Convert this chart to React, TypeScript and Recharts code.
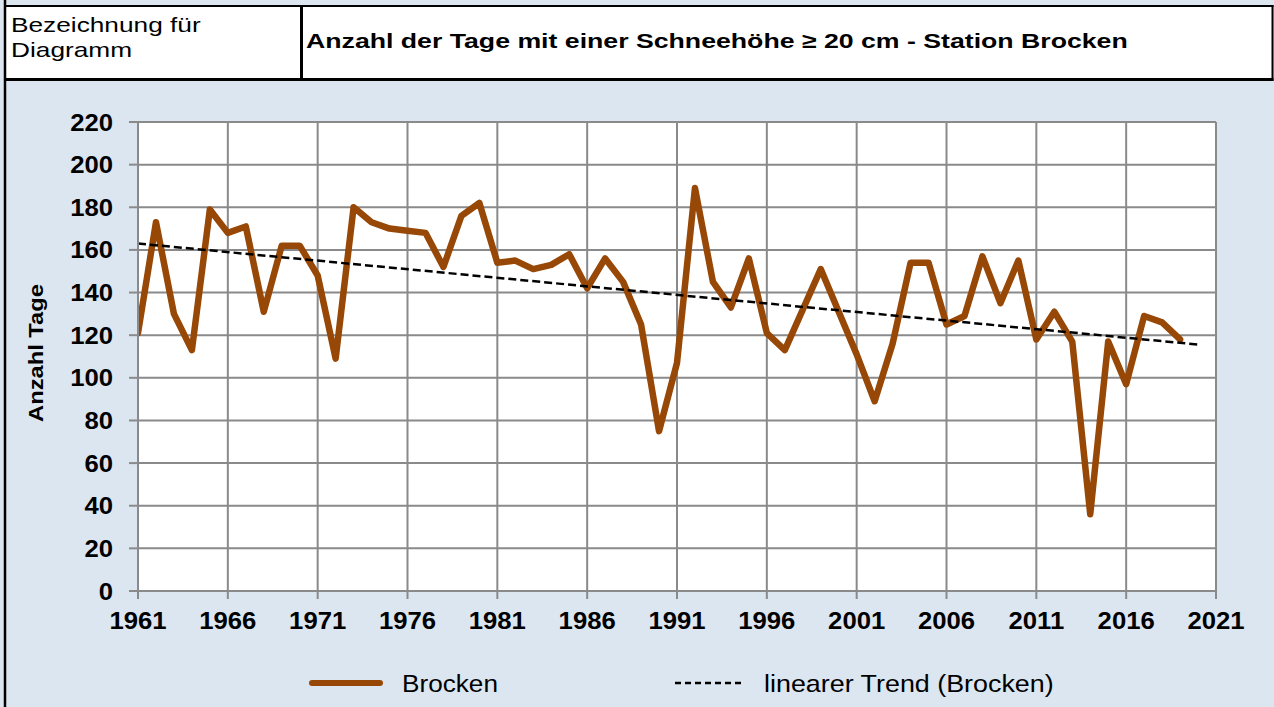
import React from 'react';
import { LineChart, Line, XAxis, YAxis, CartesianGrid } from 'recharts';

const years = [
  1961, 1962, 1963, 1964, 1965, 1966, 1967, 1968, 1969, 1970,
  1971, 1972, 1973, 1974, 1975, 1976, 1977, 1978, 1979, 1980,
  1981, 1982, 1983, 1984, 1985, 1986, 1987, 1988, 1989, 1990,
  1991, 1992, 1993, 1994, 1995, 1996, 1997, 1998, 1999, 2000,
  2001, 2002, 2003, 2004, 2005, 2006, 2007, 2008, 2009, 2010,
  2011, 2012, 2013, 2014, 2015, 2016, 2017, 2018, 2019,
];
const brocken = [
  121, 173, 130, 113, 179, 168, 171, 131, 162, 162,
  148, 109, 180, 173, 170, 169, 168, 152, 176, 182,
  154, 155, 151, 153, 158, 142, 156, 145, 125, 75,
  107, 189, 145, 133, 156, 121, 113, 132, 151, 131,
  111, 89, 116, 154, 154, 125, 129, 157, 135, 155,
  118, 131, 117, 36, 117, 97, 129, 126, 118,
];
const trendYears = [1961, 2020];
const trendValues = [163, 115.6];

const xTicks = [1961, 1966, 1971, 1976, 1981, 1986, 1991, 1996, 2001, 2006, 2011, 2016, 2021];
const yTicks = [0, 20, 40, 60, 80, 100, 120, 140, 160, 180, 200, 220];
const minorTicks = Array.from({ length: 61 }, (_, i) => 1961 + i);

const headerLabel = ['Bezeichnung für', 'Diagramm'];
const title = 'Anzahl der Tage mit einer Schneehöhe ≥ 20 cm - Station Brocken';
const yTitle = 'Anzahl Tage';
const seriesName = 'Brocken';
const trendName = 'linearer Trend (Brocken)';

const data = years.map((y, i) => ({ year: y, brocken: brocken[i] }));
const trendData = trendYears.map((y, i) => ({ year: y, trend: trendValues[i] }));

const FONT = '"Liberation Sans", Arial, Helvetica, sans-serif';
const BG = '#dce6f1';
const GRID = '#8a8a8a';
const LINE = '#974706';

const YTick = (props: any) => {
  const { x, y, payload } = props;
  return (
    <g transform={`translate(${x} ${y}) scale(1.07 1)`}>
      <text x={0} y={0} dy="0.355em" textAnchor="end" fontSize={24} fontWeight="bold" fill="#000" fontFamily={FONT}>
        {payload.value}
      </text>
    </g>
  );
};

const XTick = (props: any) => {
  const { x, y, payload } = props;
  return (
    <g transform={`translate(${x} ${y}) scale(1.07 1)`}>
      <text x={0} y={0} dy="0.71em" textAnchor="middle" fontSize={24} fontWeight="bold" fill="#000" fontFamily={FONT}>
        {payload.value}
      </text>
    </g>
  );
};

const SText = ({ x, y, sx, children, ...rest }: any) => (
  <g transform={`translate(${x} ${y}) scale(${sx} 1)`}>
    <text x={0} y={0} fill="#000" {...rest}>
      {children}
    </text>
  </g>
);

export default function App() {
  return (
    <div style={{ position: 'absolute', left: 0, top: 0, width: 1274, height: 707, background: BG, overflow: 'hidden' }}>
      <div style={{ position: 'absolute', left: 0, top: 0 }}>
        <LineChart
          width={1274}
          height={707}
          data={data}
          margin={{ top: 122, right: 58, bottom: 86, left: 0 }}
        >
          <CartesianGrid stroke={GRID} strokeWidth={2} fill="#ffffff" fillOpacity={1} />
          <XAxis
            dataKey="year"
            type="number"
            domain={[1961, 2021]}
            ticks={xTicks}
            interval={0}
            height={30}
            tickSize={8}
            tickMargin={13}
            tick={<XTick />}
            tickLine={{ stroke: GRID, strokeWidth: 2 }}
            axisLine={{ stroke: GRID, strokeWidth: 2 }}
            allowDataOverflow
          />
          <XAxis
            xAxisId="minor"
            dataKey="year"
            type="number"
            domain={[1961, 2021]}
            ticks={minorTicks}
            interval={0}
            mirror
            height={0}
            tickSize={6}
            tick={false}
            tickLine={{ stroke: GRID, strokeWidth: 1.5 }}
            axisLine={false}
            allowDataOverflow
          />
          <YAxis
            type="number"
            domain={[0, 220]}
            ticks={yTicks}
            interval={0}
            width={138}
            tickSize={9}
            tickMargin={16}
            tick={<YTick />}
            tickLine={{ stroke: GRID, strokeWidth: 2 }}
            axisLine={{ stroke: GRID, strokeWidth: 2 }}
            allowDataOverflow
          />
          <Line
            dataKey="brocken"
            name={seriesName}
            stroke={LINE}
            strokeWidth={6.5}
            strokeLinejoin="round"
            strokeLinecap="round"
            dot={false}
            activeDot={false}
            isAnimationActive={false}
          />
          <Line
            data={trendData}
            dataKey="trend"
            name={trendName}
            stroke="#000000"
            strokeWidth={2.5}
            strokeDasharray="8 4"
            dot={false}
            activeDot={false}
            isAnimationActive={false}
          />
        </LineChart>
      </div>
      <svg
        width={1274}
        height={707}
        style={{ position: 'absolute', left: 0, top: 0, pointerEvents: 'none' }}
        fontFamily={FONT}
      >
        {/* header row */}
        <rect x={5} y={6} width={1267} height={74} fill="#ffffff" />
        <line x1={4} x2={1273.5} y1={6} y2={6} stroke="#000" strokeWidth={2} />
        <line x1={4} x2={1273.5} y1={79.5} y2={79.5} stroke="#000" strokeWidth={3} />
        <line x1={301.5} x2={301.5} y1={6} y2={80} stroke="#000" strokeWidth={3} />
        <line x1={1272.5} x2={1272.5} y1={5} y2={81} stroke="#000" strokeWidth={2} />
        <line x1={5} x2={5} y1={0} y2={707} stroke="#000" strokeWidth={2.5} />
        <SText x={11} y={32} sx={1.25} fontSize={21}>{headerLabel[0]}</SText>
        <SText x={11} y={57} sx={1.25} fontSize={21}>{headerLabel[1]}</SText>
        <SText x={306} y={48} sx={1.27} fontSize={21} fontWeight="bold">{title}</SText>
        {/* y axis title */}
        <g transform="translate(43 353) rotate(-90) scale(1.13 1)">
          <text x={0} y={0} textAnchor="middle" fontSize={21} fontWeight="bold" fill="#000">
            {yTitle}
          </text>
        </g>
        {/* legend */}
        <line x1={312} x2={380} y1={683} y2={683} stroke={LINE} strokeWidth={6} strokeLinecap="round" />
        <SText x={402} y={692} sx={1.09} fontSize={24}>{seriesName}</SText>
        <line x1={675} x2={744} y1={683} y2={683} stroke="#000" strokeWidth={2.5} strokeDasharray="6 4" />
        <SText x={764} y={692} sx={1.12} fontSize={24}>{trendName}</SText>
      </svg>
    </div>
  );
}
